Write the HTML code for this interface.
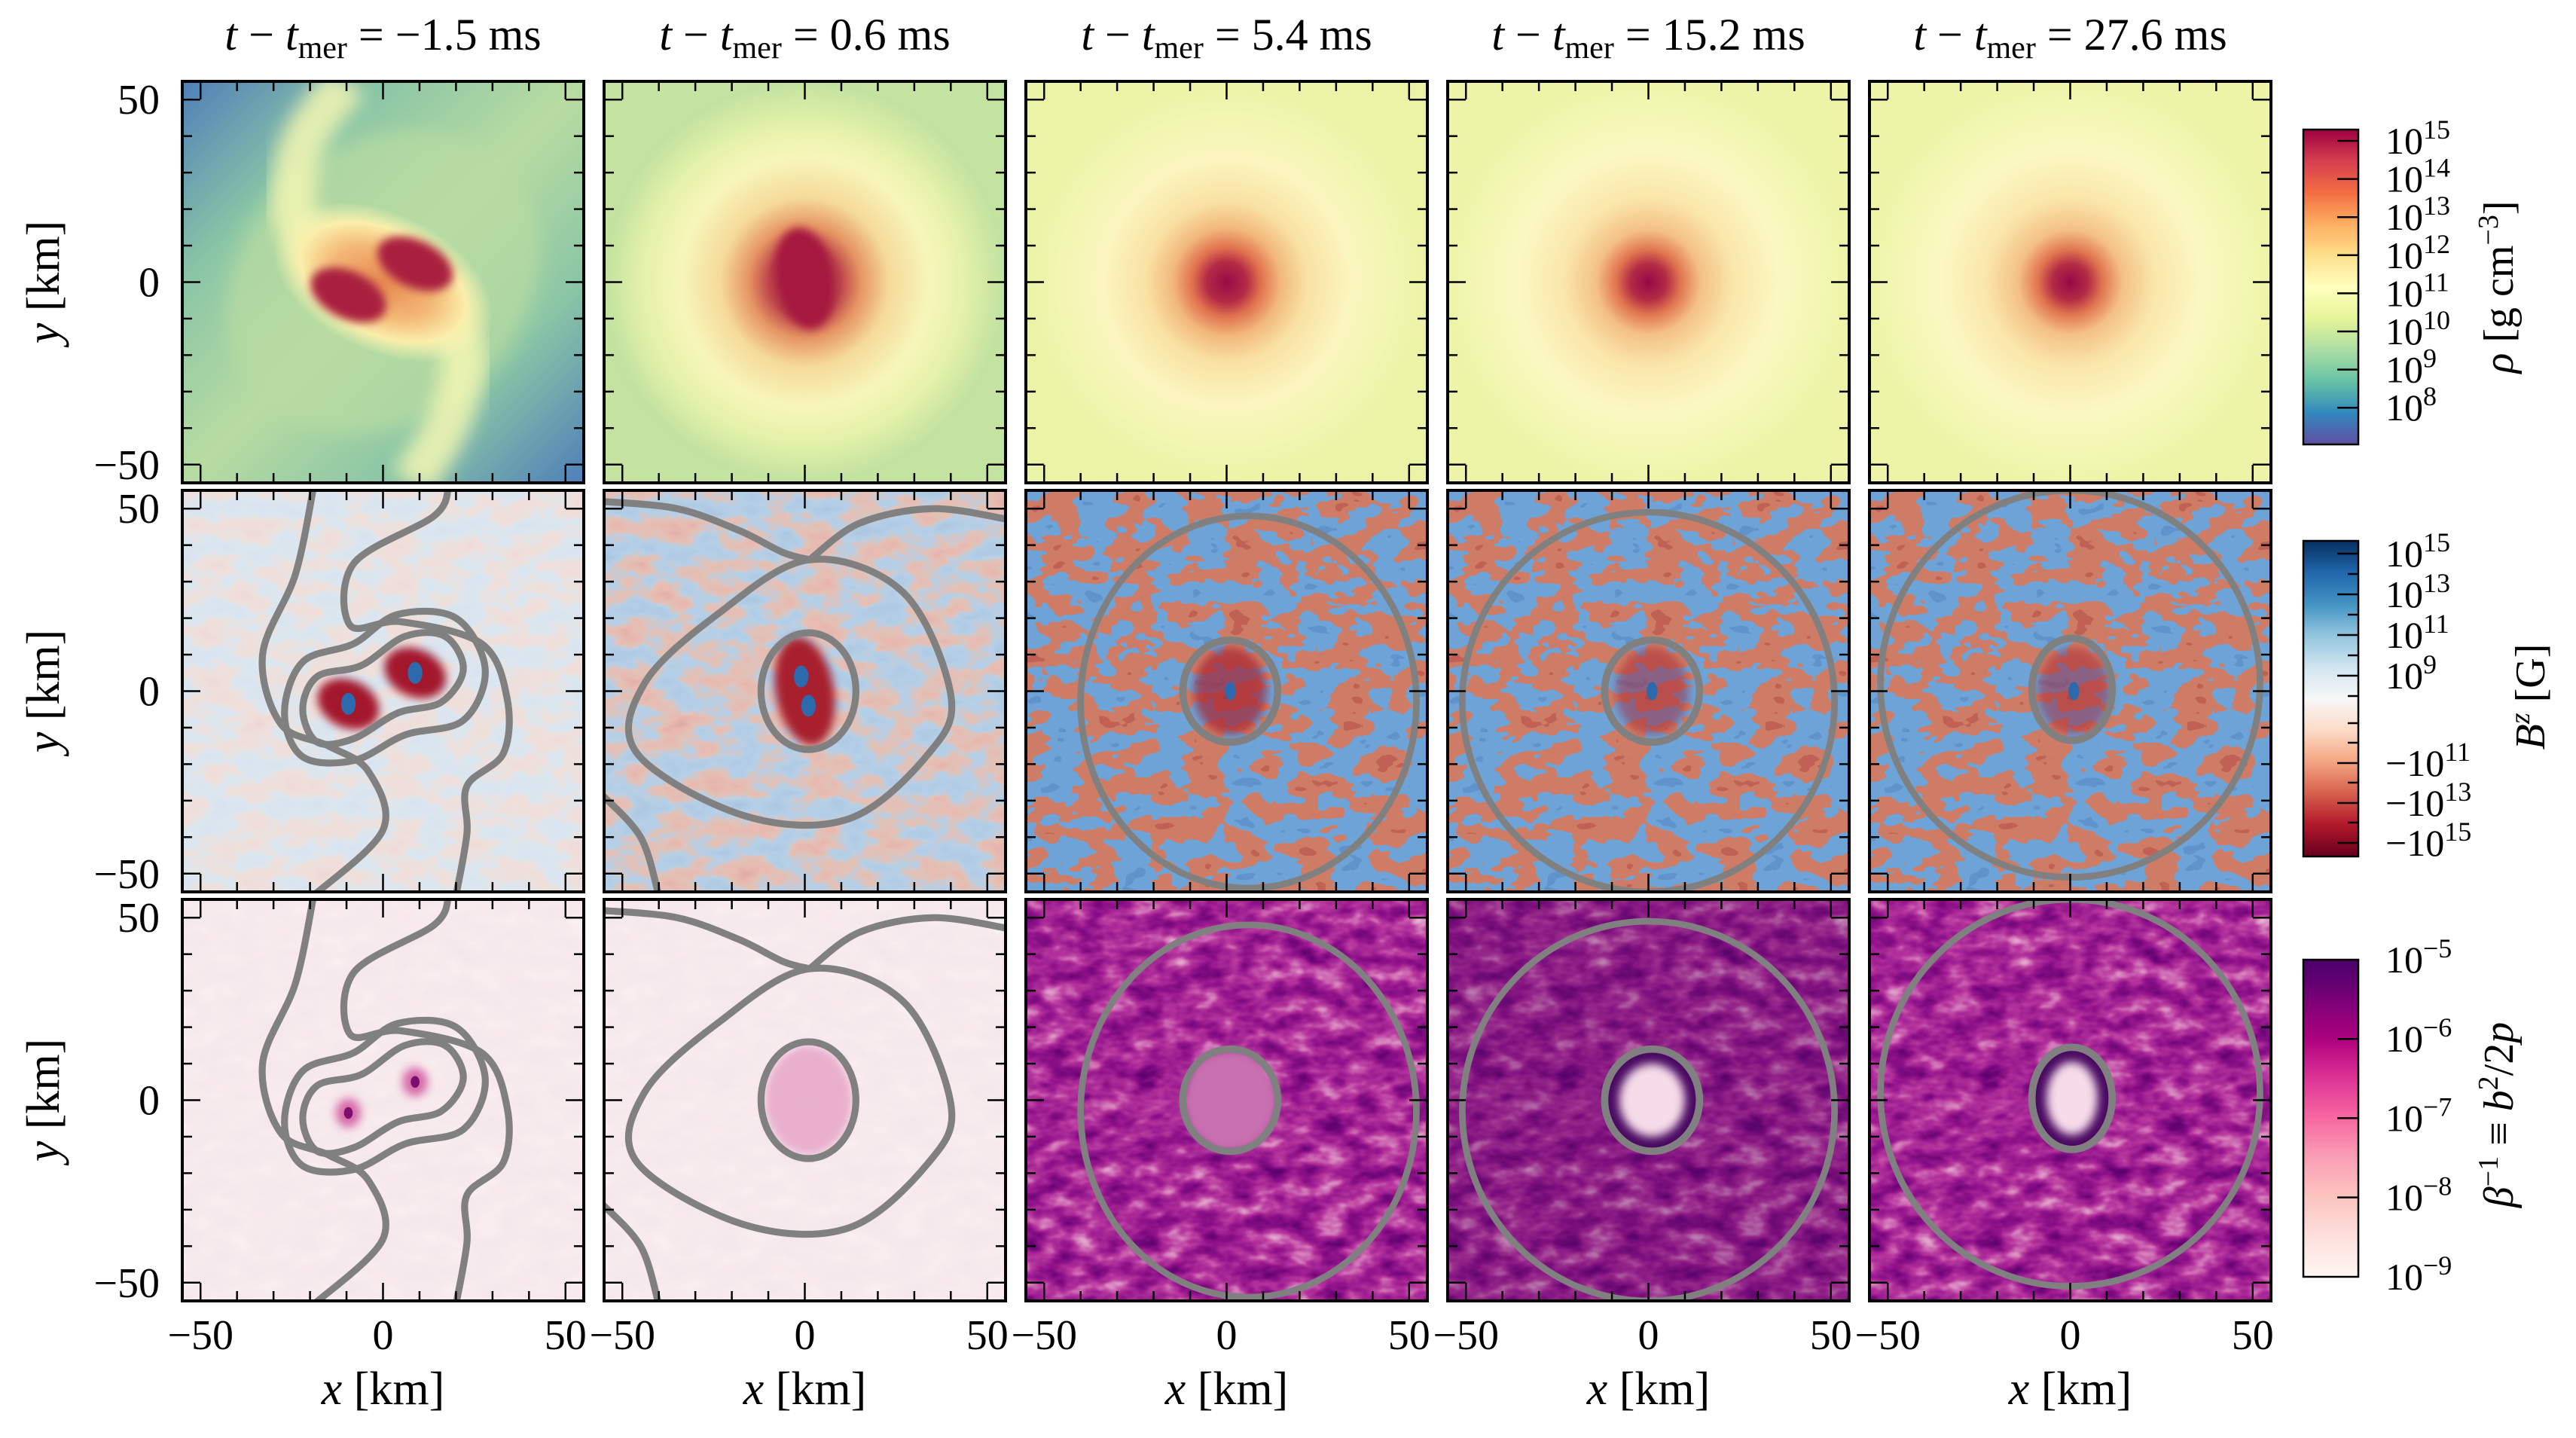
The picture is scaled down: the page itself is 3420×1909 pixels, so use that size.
<!DOCTYPE html>
<html><head><meta charset="utf-8">
<style>
html,body{margin:0;padding:0;background:#fff;}
svg{display:block;}
text{font-family:"Liberation Serif",serif;fill:#000;}
filter{color-interpolation-filters:sRGB;}
</style></head>
<body>
<svg id="fig" xmlns="http://www.w3.org/2000/svg" width="3420" height="1909" viewBox="0 0 3420 1909">
<defs>
 <filter id="fRB" color-interpolation-filters="sRGB" filterUnits="userSpaceOnUse" x="-55" y="-55" width="110" height="110">
  <feTurbulence type="fractalNoise" baseFrequency="0.10 0.17" numOctaves="3" seed="4"/>
  <feColorMatrix type="matrix" values="1 0 0 0 0 1 0 0 0 0 1 0 0 0 0 0 0 0 0 1"/>
  <feComponentTransfer>
   <feFuncR type="discrete" tableValues="0.38 0.43 0.81 0.76"/>
   <feFuncG type="discrete" tableValues="0.58 0.64 0.49 0.38"/>
   <feFuncB type="discrete" tableValues="0.80 0.84 0.40 0.33"/>
  </feComponentTransfer>
 </filter>
 <filter id="fRBl" color-interpolation-filters="sRGB" filterUnits="userSpaceOnUse" x="-55" y="-55" width="110" height="110">
  <feTurbulence type="fractalNoise" baseFrequency="0.10 0.17" numOctaves="3" seed="7"/>
  <feColorMatrix type="matrix" values="1 0 0 0 0 1 0 0 0 0 1 0 0 0 0 0 0 0 0 1"/>
  <feComponentTransfer>
   <feFuncR type="table" tableValues="0.30 0.33 0.37 0.42 0.80 0.84 0.80 0.72"/>
   <feFuncG type="table" tableValues="0.50 0.55 0.60 0.64 0.52 0.45 0.36 0.25"/>
   <feFuncB type="table" tableValues="0.74 0.78 0.82 0.84 0.43 0.37 0.30 0.25"/>
  </feComponentTransfer>
 </filter>
 <filter id="fPU" color-interpolation-filters="sRGB" filterUnits="userSpaceOnUse" x="-55" y="-55" width="110" height="110">
  <feTurbulence type="fractalNoise" baseFrequency="0.12 0.22" numOctaves="3" seed="9"/>
  <feColorMatrix type="matrix" values="1 0 0 0 0 1 0 0 0 0 1 0 0 0 0 0 0 0 0 1"/>
  <feComponentTransfer>
   <feFuncR type="table" tableValues="0.30 0.42 0.58 0.72 0.86 0.96"/>
   <feFuncG type="table" tableValues="0.00 0.02 0.08 0.22 0.55 0.85"/>
   <feFuncB type="table" tableValues="0.42 0.46 0.55 0.62 0.76 0.90"/>
  </feComponentTransfer>
 </filter>
 <filter id="blur2" x="-50%" y="-50%" width="200%" height="200%"><feGaussianBlur stdDeviation="2.5"/></filter>
 <filter id="blur1" x="-50%" y="-50%" width="200%" height="200%"><feGaussianBlur stdDeviation="1.2"/></filter>
 <radialGradient id="gCore3" gradientUnits="userSpaceOnUse" cx="0" cy="0" r="55">
  <stop offset="0" stop-color="#980a46"/><stop offset="0.10" stop-color="#b42a45"/>
  <stop offset="0.17" stop-color="#e0704e"/><stop offset="0.27" stop-color="#f2b87b"/>
  <stop offset="0.40" stop-color="#f9e1a3"/><stop offset="0.62" stop-color="#fbf6bf"/>
  <stop offset="0.82" stop-color="#f2f6b1"/><stop offset="1" stop-color="#ebf3a6"/>
 </radialGradient>
 <radialGradient id="gCore4" gradientUnits="userSpaceOnUse" cx="0" cy="0" r="55">
  <stop offset="0" stop-color="#960846"/><stop offset="0.09" stop-color="#b32b45"/>
  <stop offset="0.16" stop-color="#e0744f"/><stop offset="0.26" stop-color="#f4c086"/>
  <stop offset="0.42" stop-color="#fae6aa"/><stop offset="0.65" stop-color="#fbf8c2"/>
  <stop offset="0.85" stop-color="#f3f7b3"/><stop offset="1" stop-color="#edf4a8"/>
 </radialGradient>
 <radialGradient id="gCore2" gradientUnits="userSpaceOnUse" cx="0" cy="0" r="55">
  <stop offset="0" stop-color="#a6173f"/><stop offset="0.18" stop-color="#b8323f"/>
  <stop offset="0.28" stop-color="#e58a5a"/><stop offset="0.42" stop-color="#f6d797"/>
  <stop offset="0.62" stop-color="#f8f6bb"/><stop offset="0.80" stop-color="#e3f1a8"/>
  <stop offset="1" stop-color="#c2e2a0"/>
 </radialGradient>
 <linearGradient id="gBg1" x1="0" y1="0" x2="1" y2="1">
  <stop offset="0" stop-color="#4f7fb9"/><stop offset="0.25" stop-color="#8ac5a6"/>
  <stop offset="0.5" stop-color="#b8dca1"/><stop offset="0.75" stop-color="#8ac5a6"/>
  <stop offset="1" stop-color="#4f7fb9"/>
 </linearGradient>
 <radialGradient id="gHalo1" cx="0.5" cy="0.5" r="0.5">
  <stop offset="0" stop-color="#e8894f"/><stop offset="0.45" stop-color="#f4b774"/>
  <stop offset="0.75" stop-color="#fbeeab"/><stop offset="1" stop-color="#f4f6b4" stop-opacity="0"/>
 </radialGradient>
 <linearGradient id="cbRho" x1="0" y1="0" x2="0" y2="1">
  <stop offset="0" stop-color="#9e0142"/><stop offset="0.1" stop-color="#d53e4f"/>
  <stop offset="0.2" stop-color="#f46d43"/><stop offset="0.3" stop-color="#fdae61"/>
  <stop offset="0.4" stop-color="#fee08b"/><stop offset="0.5" stop-color="#ffffbf"/>
  <stop offset="0.6" stop-color="#e6f598"/><stop offset="0.7" stop-color="#abdda4"/>
  <stop offset="0.8" stop-color="#66c2a5"/><stop offset="0.9" stop-color="#3288bd"/>
  <stop offset="1" stop-color="#5e4fa2"/>
 </linearGradient>
 <linearGradient id="cbBz" x1="0" y1="0" x2="0" y2="1">
  <stop offset="0" stop-color="#053061"/><stop offset="0.1" stop-color="#2166ac"/>
  <stop offset="0.2" stop-color="#4393c3"/><stop offset="0.3" stop-color="#92c5de"/>
  <stop offset="0.4" stop-color="#d1e5f0"/><stop offset="0.5" stop-color="#f7f7f7"/>
  <stop offset="0.6" stop-color="#fddbc7"/><stop offset="0.7" stop-color="#f4a582"/>
  <stop offset="0.8" stop-color="#d6604d"/><stop offset="0.9" stop-color="#b2182b"/>
  <stop offset="1" stop-color="#67001f"/>
 </linearGradient>
 <linearGradient id="cbBeta" x1="0" y1="0" x2="0" y2="1">
  <stop offset="0" stop-color="#49006a"/><stop offset="0.125" stop-color="#7a0177"/>
  <stop offset="0.25" stop-color="#ae017e"/><stop offset="0.375" stop-color="#dd3497"/>
  <stop offset="0.5" stop-color="#f768a1"/><stop offset="0.625" stop-color="#fa9fb5"/>
  <stop offset="0.75" stop-color="#fcc5c0"/><stop offset="0.875" stop-color="#fde0dd"/>
  <stop offset="1" stop-color="#fff7f3"/>
 </linearGradient>
</defs>
<g id="panels"></g>
<g id="axes"></g>
<g id="cbars"></g>
</svg>
<script>
// ---- data ----
const times = ["−1.5","0.6","5.4","15.2","27.6"];
const xTickVals = [-50,0,50];
const yTickVals = [-50,0,50];
const minorTickVals = [-50,-40,-30,-20,-10,0,10,20,30,40,50];
const rhoExps = ["15","14","13","12","11","10","9","8"];
const bzPos = ["15","13","11","9"];
const bzNeg = ["11","13","15"];
const betaExps = ["−5","−6","−7","−8","−9"];
// contours (km) per panel: closed ellipses [cx,cy,rx,ry,rot]
const innerEll = [[0,0,0,0,0],[1,0,13,16,0],[1,0,13,14,0],[1,0,13,14,0],[0.5,0.5,11,14,0]];
const outerEll = [[0,0,0,0,0],[0,0,0,0,0],[6,-3,46,51,0],[0,-3,51,52,0],[0,2,52,53,0]];
const p1LineA = [[-19,56],[-24,32],[-33,10],[-28,-9],[-15,-15],[-4,-22],[0,-38],[-19,-56]];
const p1LineB = [[18,56],[14,48],[-8,35],[-9,18],[5,19],[27,13],[34,-2],[33,-17],[23,-26],[23,-39],[20,-56]];
const p1Inner = [[-22,-5],[-18,-14],[-8,-13],[4,-6],[16,-3],[22,6],[17,15],[6,15],[-6,7],[-18,4]];
const p1Inner2 = [[-27,-6],[-22,-18],[-8,-19],[6,-12],[22,-8],[28,6],[20,20],[4,21],[-8,13],[-22,8]];
const p2Mid = [[1.3,36],[27,27],[40,-1],[34,-17],[12,-35],[-17,-34],[-46,-17],[-44,2],[-24,21]];
const p2Arm = [[1.3,36],[15,46],[35,50],[56,47]];
const p2Arm2 = [[-56,52],[-35,50],[-18,44],[-6,38],[1.3,36]];
const p2Arm3 = [[-56,-28],[-45,-40],[-40,-56]];

const X0 = [242,802,1362,1922,2482];
const Y0 = [108,651,1194];
const S = 533, KM = 110, sc = S/KM;
const NS = "http://www.w3.org/2000/svg";
function mk(tag, attrs, parent){
  const e = document.createElementNS(NS, tag);
  for (const k in attrs) e.setAttribute(k, attrs[k]);
  if (parent) parent.appendChild(e);
  return e;
}
function smooth(pts, closed){
  const P = pts.map(p=>[p[0],-p[1]]);
  const n = P.length;
  let d = "M"+P[0][0]+","+P[0][1];
  const last = closed ? n : n-1;
  for (let i=0;i<last;i++){
    const p0 = P[(i-1+n)%n], p1 = P[i], p2 = P[(i+1)%n], p3 = P[(i+2)%n];
    const q0 = (!closed && i===0)? p1 : p0;
    const q3 = (!closed && i===n-2)? p2 : p3;
    const c1 = [p1[0]+(p2[0]-q0[0])/6, p1[1]+(p2[1]-q0[1])/6];
    const c2 = [p2[0]-(q3[0]-p1[0])/6, p2[1]-(q3[1]-p1[1])/6];
    d += " C"+c1+" "+c2+" "+p2;
  }
  return d + (closed?" Z":"");
}
const panelsG = document.getElementById('panels');
const axesG = document.getElementById('axes');
const cbG = document.getElementById('cbars');

function panelSvg(r,c){
  const s = mk('svg',{x:X0[c],y:Y0[r],width:S,height:S,viewBox:"-55 -55 110 110",preserveAspectRatio:"none"},panelsG);
  
  
  return s;
}
function contourPath(s, d, name){
  const p = mk('path',{d:d,fill:"none",stroke:"#808080","stroke-width":1.9,"stroke-linejoin":"round"},s);
  
  
}
function ellipse(s, e, attrs, name){
  const el = mk('ellipse',Object.assign({cx:e[0],cy:-e[1],rx:e[2],ry:e[3],transform:"rotate("+(e[4]||0)+" "+e[0]+" "+(-e[1])+")"},attrs),s);
  
  
  return el;
}
function addContours(s,c){
  if (c===0){
    contourPath(s, smooth(p1LineA,false), 'contour-outer-a');
    contourPath(s, smooth(p1LineB,false), 'contour-outer-b');
    contourPath(s, smooth(p1Inner2,true), 'contour-mid');
    contourPath(s, smooth(p1Inner,true), 'contour-inner');
  } else if (c===1){
    contourPath(s, smooth(p2Mid,true), 'contour-mid');
    contourPath(s, smooth(p2Arm,false), 'contour-arm');
    contourPath(s, smooth(p2Arm2,false), 'contour-arm-2');
    contourPath(s, smooth(p2Arm3,false), 'contour-arm-3');
    ellipse(s, innerEll[c], {fill:"none",stroke:"#808080","stroke-width":1.9}, 'contour-inner');
  } else {
    ellipse(s, outerEll[c], {fill:"none",stroke:"#808080","stroke-width":1.8}, 'contour-outer');
    ellipse(s, innerEll[c], {fill:"none",stroke:"#808080","stroke-width":2.0}, 'contour-inner');
  }
}
const blobs = [[-9.5,-3.5,11,6.5,25],[8.8,5,11,6.5,25]];

for (let c=0;c<5;c++){
  // ---- row 1: density ----
  let s = panelSvg(0,c);
  if (c===0){
    mk('rect',{x:-55,y:-55,width:110,height:110,fill:"url(#gBg1)"},s);
    ellipse(s,[0,0,46,38,-40],{fill:"#b9dca2",opacity:0.7,filter:"url(#blur2)"},'density-disk');
    const a1 = mk('path',{d:smooth([[-14,4],[-24,18],[-22,38],[-10,55]],false),fill:"none",stroke:"#f3f6b3","stroke-width":12,opacity:0.85,filter:"url(#blur2)"},s);
    
    
    const a2 = mk('path',{d:smooth([[14,-6],[22,-20],[18,-38],[8,-55]],false),fill:"none",stroke:"#f3f6b3","stroke-width":12,opacity:0.85,filter:"url(#blur2)"},s);
    
    
    ellipse(s,[0,0,32,19,25],{fill:"url(#gHalo1)"},'density-halo');
    blobs.forEach(b=>ellipse(s,b,{fill:"#a9203f",filter:"url(#blur1)"},'neutron-star'));
  } else if (c===1){
    mk('rect',{x:-55,y:-55,width:110,height:110,fill:"#c4e2a0"},s);
    ellipse(s,[-2,-2,48,46,0],{fill:"#eef5b2",filter:"url(#blur2)"},'density-disk');
    ellipse(s,[0,0,55,55,0],{fill:"url(#gCore2)",opacity:0.9},'density-core');
    ellipse(s,[0,1,8,14,-10],{fill:"#a5183f",filter:"url(#blur1)"},'density-center');
  } else {
    mk('rect',{x:-55,y:-55,width:110,height:110,fill:c===2?"url(#gCore3)":"url(#gCore4)"},s);
  }
  // ---- row 2: Bz ----
  s = panelSvg(1,c);
  if (c<2){
    mk('rect',{x:-55,y:-55,width:110,height:110,fill:"#f6f6f6"},s);
    mk('rect',{x:-55,y:-55,width:110,height:110,filter:"url(#fRBl)",opacity:c===0?0.18:0.45},s);
    if (c===0){
      blobs.forEach(b=>ellipse(s,[b[0],b[1],b[2]*0.8,b[3]*1.0,b[4]],{fill:"#a3172d",filter:"url(#blur1)"},'bz-core'));
      blobs.forEach(b=>ellipse(s,[b[0],b[1],2,3,0],{fill:"#2c6aad"},'bz-core-blue'));
    } else {
      ellipse(s,[0,0,8,15,-10],{fill:"#a8202e",filter:"url(#blur1)"},'bz-core');
      ellipse(s,[-1,4,2,3,0],{fill:"#2c6aad"},'bz-core-blue');
      ellipse(s,[1,-4,2,3,0],{fill:"#2c6aad"},'bz-core-blue');
    }
  } else {
    mk('rect',{x:-55,y:-55,width:110,height:110,filter:"url(#fRB)"},s);
    ellipse(s,[1,0,10,12,0],{fill:"#a82230",opacity:c===2?0.7:0.5,filter:"url(#blur1)"},'bz-core');
    ellipse(s,[1,0,1.5,2.5,0],{fill:"#2c6aad"},'bz-core-blue');
  }
  addContours(s,c);
  // ---- row 3: beta^-1 ----
  s = panelSvg(2,c);
  if (c<2){
    mk('rect',{x:-55,y:-55,width:110,height:110,fill:"#fcf5f2"},s);
    mk('rect',{x:-55,y:-55,width:110,height:110,filter:"url(#fPU)",opacity:0.05},s);
    if (c===0){
      blobs.forEach(b=>ellipse(s,[b[0],b[1],3.5,4,0],{fill:"#d76aa8",filter:"url(#blur1)"},'beta-core'));
      blobs.forEach(b=>ellipse(s,[b[0],b[1],1.2,1.6,0],{fill:"#7a0f6e"},'beta-core-dark'));
    } else {
      ellipse(s,[1,0,12,15,0],{fill:"#e6a1c6",opacity:0.8,filter:"url(#blur1)"},'beta-core');
    }
  } else {
    mk('rect',{x:-55,y:-55,width:110,height:110,filter:"url(#fPU)"},s);
    if (c===3) mk('rect',{x:-55,y:-55,width:110,height:110,fill:"#3f0656",opacity:0.25},s);
    const ie = innerEll[c];
    if (c===2){
      ellipse(s,ie,{fill:"#c870b0",filter:"url(#blur1)"},'beta-core');
    } else {
      ellipse(s,[ie[0],ie[1],ie[2]-1,ie[3]-1,0],{fill:"#4a0a62"},'beta-core-ring');
      ellipse(s,[ie[0],ie[1],ie[2]-4,ie[3]-4,0],{fill:"#f6dbe9",filter:"url(#blur1)"},'beta-core');
    }
  }
  addContours(s,c);
}

// ---- axes frames, ticks, labels ----
function kx(c,v){ return X0[c]+S/2+v*sc; }
function ky(r,v){ return Y0[r]+S/2-v*sc; }
for (let r=0;r<3;r++){
  for (let c=0;c<5;c++){
    const g = mk('g',{},axesG);
    
    
    mk('rect',{x:X0[c],y:Y0[r],width:S,height:S,fill:"none",stroke:"#000","stroke-width":4},g);
    minorTickVals.forEach(v=>{
      const L = (v%50===0)?24:13;
      const x = kx(c,v), y = ky(r,v);
      mk('line',{x1:x,y1:Y0[r]+S,x2:x,y2:Y0[r]+S-L,stroke:"#000","stroke-width":2.5},g);
      mk('line',{x1:x,y1:Y0[r],x2:x,y2:Y0[r]+L,stroke:"#000","stroke-width":2.5},g);
      mk('line',{x1:X0[c],y1:y,x2:X0[c]+L,y2:y,stroke:"#000","stroke-width":2.5},g);
      mk('line',{x1:X0[c]+S,y1:y,x2:X0[c]+S-L,y2:y,stroke:"#000","stroke-width":2.5},g);
    });
    if (c===0){
      yTickVals.forEach(v=>{
        const t = mk('text',{x:212,y:ky(r,v)+19,"font-size":56,"text-anchor":"end"},axesG);
        
        
        t.textContent = v<0 ? "−"+(-v) : String(v);
      });
      const yl = mk('text',{x:0,y:0,"font-size":62,"text-anchor":"middle",transform:"translate(78,"+(Y0[r]+S/2)+") rotate(-90)"},axesG);
      
      
      yl.innerHTML = '<tspan font-style="italic">y</tspan> [km]';
    }
    if (r===2){
      xTickVals.forEach(v=>{
        const t = mk('text',{x:kx(c,v),y:1791,"font-size":56,"text-anchor":"middle"},axesG);
        
        
        t.textContent = v<0 ? "−"+(-v) : String(v);
      });
      const xl = mk('text',{x:X0[c]+S/2,y:1864,"font-size":62,"text-anchor":"middle"},axesG);
      
      
      xl.innerHTML = '<tspan font-style="italic">x</tspan> [km]';
    }
    if (r===0){
      const tt = mk('text',{x:X0[c]+S/2,y:66,"font-size":60,"text-anchor":"middle"},axesG);
      
      
      tt.innerHTML = '<tspan font-style="italic">t</tspan> − <tspan font-style="italic">t</tspan><tspan font-size="42" dy="11">mer</tspan><tspan dy="-11"> = '+times[c]+' ms</tspan>';
    }
  }
}

// ---- colorbars ----
const CBX = 3058, CBW = 73;
function colorbar(y0,y1,grad,name){
  const g = mk('g',{},cbG);
  
  
  mk('rect',{x:CBX,y:y0,width:CBW,height:y1-y0,fill:"url(#"+grad+")",stroke:"#000","stroke-width":2.5},g);
  return g;
}
function cbTick(g,y,len){ mk('line',{x1:CBX+CBW,y1:y,x2:CBX+CBW-len,y2:y,stroke:"#000","stroke-width":2.5},g); }
function cbLabel(g,x,y,base,exp){
  const t = mk('text',{x:x,y:y+17,"font-size":50},g);
  
  
  t.innerHTML = base+'<tspan font-size="36" dy="-20">'+exp+'</tspan>';
}
// rho
let g = colorbar(172,590,"cbRho","colorbar-density");
rhoExps.forEach((e,i)=>{ const y = 187+i*50.6; cbTick(g,y,28); cbLabel(g,3167,y,"10",e); });
let tl = mk('text',{x:0,y:0,"font-size":56,"text-anchor":"middle",transform:"translate(3336,381) rotate(-90)"},cbG);


tl.innerHTML = '<tspan font-style="italic">ρ</tspan> [g cm<tspan font-size="38" dy="-20">−3</tspan><tspan dy="20">]</tspan>';
// Bz
g = colorbar(718,1137,"cbBz","colorbar-bz");
bzPos.forEach((e,i)=>{ const y = 735+i*54; cbTick(g,y,28); cbLabel(g,3167,y,"10",e); });
bzNeg.forEach((e,i)=>{ const y = 1013+i*53; cbTick(g,y,28); cbLabel(g,3167,y,"−10",e); });
[762,816,870,924,960,986,1039,1092].forEach(y=>cbTick(g,y,14));
tl = mk('text',{x:0,y:0,"font-size":56,"text-anchor":"middle",transform:"translate(3378,925) rotate(-90)"},cbG);


tl.innerHTML = '<tspan font-style="italic">B</tspan><tspan font-size="38" dy="-20" font-style="italic">z</tspan><tspan dy="20"> [G]</tspan>';
// beta
g = colorbar(1274,1695,"cbBeta","colorbar-beta");
betaExps.forEach((e,i)=>{ const y = 1274+i*105.2; if(i>0&&i<4) cbTick(g,y,28); cbLabel(g,3167,y,"10",e); });
tl = mk('text',{x:0,y:0,"font-size":56,"text-anchor":"middle",transform:"translate(3336,1480) rotate(-90)"},cbG);


tl.innerHTML = '<tspan font-style="italic">β</tspan><tspan font-size="38" dy="-20">−1</tspan><tspan dy="20"> ≡ </tspan><tspan font-style="italic">b</tspan><tspan font-size="38" dy="-20">2</tspan><tspan dy="20">/2</tspan><tspan font-style="italic">p</tspan>';
</script>
</body></html>
